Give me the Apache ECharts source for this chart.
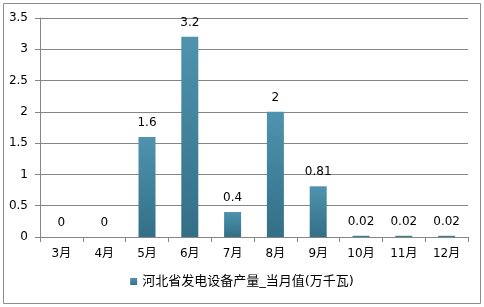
<!DOCTYPE html>
<html>
<head>
<meta charset="utf-8">
<script src="https://cdn.jsdelivr.net/npm/echarts@6/dist/echarts.min.js"></script>
<style>
  html, body { margin: 0; padding: 0; background: #fff; }
  #main { width: 484px; height: 307px; }
</style>
</head>
<body>
<div id="main"></div>
<script>
// 月份
var months = ['3月', '4月', '5月', '6月', '7月', '8月', '9月', '10月', '11月', '12月'];
// 当月值(万千瓦)
var values = [0, 0, 1.6, 3.2, 0.4, 2, 0.81, 0.02, 0.02, 0.02];
var seriesName = '河北省发电设备产量_当月值(万千瓦)';

var myChart = echarts.init(document.getElementById('main'));
var font = 'Tahoma, "DejaVu Sans", "Noto Sans CJK SC", sans-serif';

myChart.setOption({
  animation: false,
  textStyle: { fontFamily: font },
  graphic: [{
    type: 'rect',
    shape: { x: 3.5, y: 3.5, width: 477, height: 300 },
    style: { fill: 'none', stroke: '#8c8c8c', lineWidth: 1 }
  }],
  grid: { left: 40, right: 16, top: 18, bottom: 70, containLabel: false },
  legend: {
    bottom: 14,
    left: 'center',
    itemWidth: 7,
    itemHeight: 7,
    itemGap: 4,
    textStyle: { fontSize: 13, color: '#000', fontFamily: font },
    data: [{ name: seriesName, icon: 'rect' }]
  },
  xAxis: {
    type: 'category',
    data: months,
    axisLine: { lineStyle: { color: '#868686' } },
    axisTick: { show: true, length: 5, alignWithLabel: false, lineStyle: { color: '#868686' } },
    axisLabel: { color: '#000', fontSize: 12, margin: 11 }
  },
  yAxis: {
    type: 'value',
    min: 0,
    max: 3.5,
    interval: 0.5,
    axisLine: { show: true, lineStyle: { color: '#868686' } },
    axisTick: { show: true, length: 5, inside: false, lineStyle: { color: '#868686' } },
    axisLabel: { color: '#000', fontSize: 12, margin: 12 },
    splitLine: { lineStyle: { color: '#868686' } }
  },
  series: [{
    name: seriesName,
    type: 'bar',
    data: values,
    barWidth: 17,
    itemStyle: {
      color: new echarts.graphic.LinearGradient(0, 0, 0, 1, [
        { offset: 0, color: '#4f93ae' },
        { offset: 1, color: '#336f87' }
      ])
    },
    label: {
      show: true,
      position: 'top',
      distance: 8,
      color: '#000',
      fontSize: 12,
      fontFamily: font
    }
  }]
});
</script>
</body>
</html>
